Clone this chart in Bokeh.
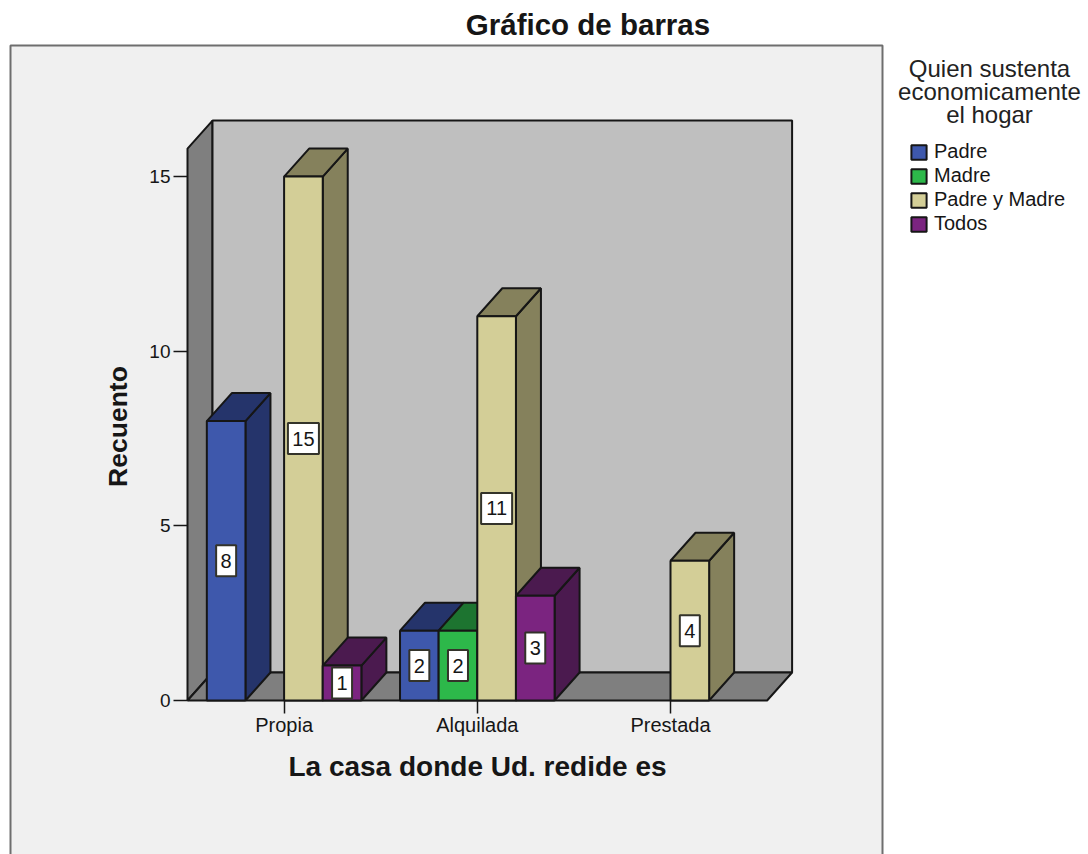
from bokeh.plotting import figure
from bokeh.embed import file_html
from bokeh.resources import INLINE
from bokeh.models import Range1d, FixedTicker, Legend, LegendItem
from bokeh.core.properties import value

categories = ["Propia", "Alquilada", "Prestada"]
padre = [8, 2, 0]
madre = [0, 2, 0]
padre_madre = [15, 11, 4]
todos = [1, 3, 0]
series_names = ["Padre", "Madre", "Padre y Madre", "Todos"]
series_values = [padre, madre, padre_madre, todos]
front_colors = ["#3E58AC", "#2DB84A", "#D3CE97", "#7B2480"]
dark_colors = ["#25346B", "#1D7430", "#85815C", "#4B1A4F"]
y_ticks = [0, 5, 10, 15]

W, H = 1088, 854
FONT = "Liberation Sans"
INK = "#161616"

# image-pixel geometry of the 3D box
PX_X0, PX_CAT = 187.0, 193.2
PX_Y0, PX_UNIT = 700.0, 34.93
def dx(px): return (px - PX_X0) / PX_CAT
def dy(px): return (PX_Y0 - px) / PX_UNIT

DX = 25 / PX_CAT
DY = 28 / PX_UNIT
TOP = 15.8
N = len(categories)
BAR = 0.2

p = figure(width=W, height=H, output_backend="svg", toolbar_location=None,
           x_range=Range1d(dx(0), dx(W)), y_range=Range1d(dy(H), dy(0)),
           min_border=0, min_border_left=0, min_border_right=0,
           min_border_top=0, min_border_bottom=0, outline_line_color=None,
           background_fill_color="white", border_fill_color="white")
p.grid.visible = False

# outer panel
p.quad(left=[dx(10)], right=[dx(882)], top=[dy(45)], bottom=[dy(900)],
       fill_color="#F0F0F0", line_color="#6E6E6E", line_width=2)

# walls and floor
wall = dict(line_color=INK, line_width=2)
p.patch([0, DX, DX, 0], [TOP, TOP + DY, DY, 0], fill_color="#7F7F7F", **wall)
p.patch([DX, N + DX, N + DX, DX], [TOP + DY, TOP + DY, DY, DY], fill_color="#BFBFBF", **wall)
p.patch([0, DX, N + DX, N], [0, DY, DY, 0], fill_color="#7F7F7F", **wall)

# bars
legend_items = []
lx, ly, lw = [], [], []
for s, (name, vals) in enumerate(zip(series_names, series_values)):
    idx = [i for i, v in enumerate(vals) if v > 0]
    left = [i + 0.1 + s * BAR for i in idx]
    right = [l + BAR for l in left]
    tops = [vals[i] for i in idx]
    p.patches([[r, r + DX, r + DX, r] for r in right],
              [[0, DY, t + DY, t] for t in tops],
              fill_color=dark_colors[s], line_color=INK, line_width=2)
    p.patches([[l, l + DX, r + DX, r] for l, r in zip(left, right)],
              [[t, t + DY, t + DY, t] for t in tops],
              fill_color=dark_colors[s], line_color=INK, line_width=2)
    fr = p.quad(left=left, right=right, top=tops, bottom=[0] * len(idx),
                fill_color=front_colors[s], line_color=INK, line_width=2)
    legend_items.append(LegendItem(label=name, renderers=[fr]))
    for l, t in zip(left, tops):
        lx.append(l + BAR / 2)
        ly.append(t / 2)
        lw.append(str(t))

# value labels
p.rect(lx, ly, width=[31 if len(t) > 1 else 20 for t in lw], height=[31] * len(lw),
       width_units="screen", height_units="screen",
       fill_color="white", line_color="#33332A", line_width=2)
p.text(lx, ly, text=lw, text_align="center", text_baseline="middle",
       text_font=value(FONT), text_font_size="20px", text_color=INK)

# axes
xa = p.xaxis[0]
xa.fixed_location = 0
xa.bounds = (0, N)
xa.ticker = FixedTicker(ticks=[i + 0.5 for i in range(N)])
xa.major_label_overrides = {i + 0.5: c for i, c in enumerate(categories)}
xa.axis_line_color = None
xa.major_tick_line_color = INK
xa.major_tick_line_width = 1.5
xa.major_tick_out = 13
xa.major_tick_in = 0
xa.minor_tick_line_color = None
xa.major_label_standoff = 0
xa.major_label_text_font = FONT
xa.major_label_text_font_size = "20px"
xa.major_label_text_color = INK
xa.axis_label = "La casa donde Ud. redide es"
xa.axis_label_text_font = FONT
xa.axis_label_text_font_style = "bold"
xa.axis_label_text_font_size = "28px"
xa.axis_label_text_color = INK
xa.axis_label_standoff = 12

ya = p.yaxis[0]
ya.fixed_location = 0
ya.bounds = (0, 15.7)
ya.ticker = FixedTicker(ticks=y_ticks)
ya.axis_line_color = None
ya.major_tick_line_color = INK
ya.major_tick_line_width = 1.5
ya.major_tick_out = 14
ya.major_tick_in = 0
ya.minor_tick_line_color = None
ya.major_label_standoff = 3
ya.major_label_text_font = FONT
ya.major_label_text_font_size = "19px"
ya.major_label_text_color = INK
ya.axis_label = "Recuento"
ya.axis_label_text_font = FONT
ya.axis_label_text_font_style = "bold"
ya.axis_label_text_font_size = "26.5px"
ya.axis_label_text_color = INK
ya.axis_label_standoff = 13

# title
p.text([dx(587.5)], [dy(24)], text=["Gráfico de barras"], text_align="center",
       text_baseline="middle", text_font=value(FONT), text_font_style="bold",
       text_font_size="29.5px", text_color=INK)

# legend title
p.text([dx(989)] * 3, [dy(68), dy(91), dy(114)],
       text=["Quien sustenta", "economicamente", "el hogar"], text_align="center",
       text_baseline="middle", text_font=value(FONT), text_font_size="24px", text_color="#222222")

leg = Legend(items=legend_items, location=(909, 854 - 235), orientation="vertical",
             background_fill_alpha=0, border_line_color=None, padding=0, margin=0,
             spacing=1, glyph_width=19, glyph_height=18, label_standoff=6,
             label_text_font=FONT, label_text_font_size="20px", label_text_color=INK,
             label_height=18)
p.add_layout(leg, "center")

open("out.html", "w").write(file_html(p, INLINE))
